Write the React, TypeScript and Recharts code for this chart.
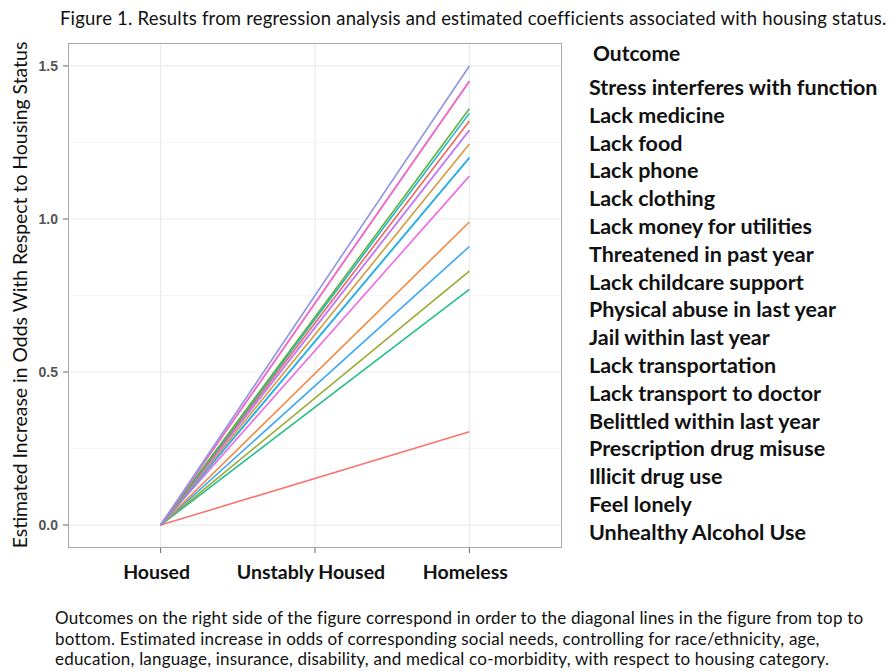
import React from "react";
import { LineChart, Line, XAxis, YAxis, CartesianGrid, ReferenceLine } from "recharts";

const categories = ["Housed", "Unstably Housed", "Homeless"];
const categoryPositions = [1, 2, 3];

const outcomes = [
  "Stress interferes with function",
  "Lack medicine",
  "Lack food",
  "Lack phone",
  "Lack clothing",
  "Lack money for utilities",
  "Threatened in past year",
  "Lack childcare support",
  "Physical abuse in last year",
  "Jail within last year",
  "Lack transportation",
  "Lack transport to doctor",
  "Belittled within last year",
  "Prescription drug misuse",
  "Illicit drug use",
  "Feel lonely",
  "Unhealthy Alcohol Use",
];

const housedValues = [0, 0, 0, 0, 0, 0, 0, 0, 0, 0, 0, 0, 0, 0, 0, 0, 0];
const homelessValues = [1.5, 1.45, 1.45, 1.36, 1.345, 1.32, 1.29, 1.29, 1.245, 1.2, 1.2, 1.14, 0.99, 0.91, 0.83, 0.77, 0.305];

const lineColors = [
  "#8F94E6", "#EC6EC6", "#FF61C3", "#5CB33C", "#1DB6C9", "#F0655D", "#C77CF5", "#AE87FF",
  "#D49A3A", "#2EAEF0", "#00BFC4", "#EE6AE6", "#F08A45", "#3AA8F8", "#9AAA30", "#22BE8A", "#F8766D",
];

const yTicks = [0, 0.5, 1.0, 1.5];
const yMinor = [0.25, 0.75, 1.25];

const captionLines = [
  "Outcomes on the right side of the figure correspond in order to the diagonal lines in the figure from top to",
  "bottom. Estimated increase in odds of corresponding social needs, controlling for race/ethnicity, age,",
  "education, language, insurance, disability, and medical co-morbidity, with respect to housing category.",
];

const titleText = "Figure 1. Results from regression analysis and estimated coefficients associated with housing status.";
const yLabelText = "Estimated Increase in Odds With Respect to Housing Status";

const rows = [
  Object.fromEntries([["x", categoryPositions[0]], ...outcomes.map((_, i) => ["s" + i, housedValues[i]])]),
  Object.fromEntries([["x", categoryPositions[2]], ...outcomes.map((_, i) => ["s" + i, homelessValues[i]])]),
];

const FONT = "Lato, 'Open Sans', sans-serif";

const XTick = (props: any) => {
  const { x, y, payload } = props;
  const idx = categoryPositions.indexOf(payload.value);
  return (
    <text x={x - 4} y={y + 24} textAnchor="middle" fontFamily={FONT} fontWeight={700} fontSize={19.5} fill="#111">
      {categories[idx]}
    </text>
  );
};

export default function App() {
  const order = outcomes.map((_, i) => i).reverse();
  return (
    <div style={{ position: "absolute", left: 0, top: 0, width: 893, height: 671, background: "#fff", overflow: "hidden" }}>
      <div style={{ position: "absolute", left: 60, top: 7, fontFamily: FONT, fontSize: 18.5, letterSpacing: 0.2, color: "#111", whiteSpace: "nowrap" }}>
        {titleText}
      </div>
      <div
        style={{
          position: "absolute",
          left: 19,
          top: 295,
          transform: "translate(-50%, -50%) rotate(-90deg)",
          fontFamily: FONT,
          fontSize: 19.4,
          color: "#111",
          whiteSpace: "nowrap",
        }}
      >
        {yLabelText}
      </div>
      <div style={{ position: "absolute", left: 0, top: 0 }}>
        <LineChart width={893} height={671} data={rows} margin={{ top: 43, right: 331, bottom: 83, left: 0 }}>
          <CartesianGrid stroke="#EBEBEB" strokeWidth={1.2} horizontalValues={yTicks} verticalValues={categoryPositions} />
          {yMinor.map((v) => (
            <ReferenceLine key={v} y={v} stroke="#F3F3F3" strokeWidth={0.8} />
          ))}
          <XAxis
            dataKey="x"
            type="number"
            domain={[0.4, 3.6]}
            ticks={categoryPositions}
            height={40}
            tick={<XTick />}
            tickSize={5}
            axisLine={false}
            tickLine={{ stroke: "#666" }}
          />
          <YAxis
            type="number"
            domain={[-0.075, 1.575]}
            ticks={yTicks}
            width={68}
            tickSize={5}
            tickMargin={5}
            axisLine={false}
            tickLine={{ stroke: "#666" }}
            tickFormatter={(v: number) => v.toFixed(1)}
            tick={{ fontFamily: "'Liberation Sans', Arial, sans-serif", fontWeight: 700, fontSize: 14, fill: "#555" }}
          />
          {order.map((i) => (
            <Line
              key={i}
              type="linear"
              dataKey={"s" + i}
              stroke={lineColors[i]}
              strokeWidth={1.6}
              dot={false}
              isAnimationActive={false}
            />
          ))}
        </LineChart>
      </div>
      <div style={{ position: "absolute", left: 68, top: 43, width: 494, height: 505, border: "1px solid #A8A8A8", boxSizing: "border-box", pointerEvents: "none" }} />
      <div style={{ position: "absolute", left: 593, top: 40, fontFamily: FONT, fontWeight: 700, fontSize: 21, color: "#111", whiteSpace: "nowrap" }}>
        Outcome
      </div>
      {outcomes.map((o, i) => (
        <div
          key={o}
          style={{
            position: "absolute",
            left: 589,
            top: 73 + i * 27.8,
            fontFamily: FONT,
            fontWeight: 700,
            fontSize: 21.5,
            color: "#111",
            whiteSpace: "nowrap",
            lineHeight: "28px",
          }}
        >
          {o}
        </div>
      ))}
      {captionLines.map((t, i) => (
        <div
          key={i}
          style={{
            position: "absolute",
            left: 55,
            top: 607 + i * 20.5,
            fontFamily: FONT,
            fontSize: 17,
            letterSpacing: 0.2,
            color: "#111",
            whiteSpace: "nowrap",
            lineHeight: "21px",
          }}
        >
          {t}
        </div>
      ))}
    </div>
  );
}
